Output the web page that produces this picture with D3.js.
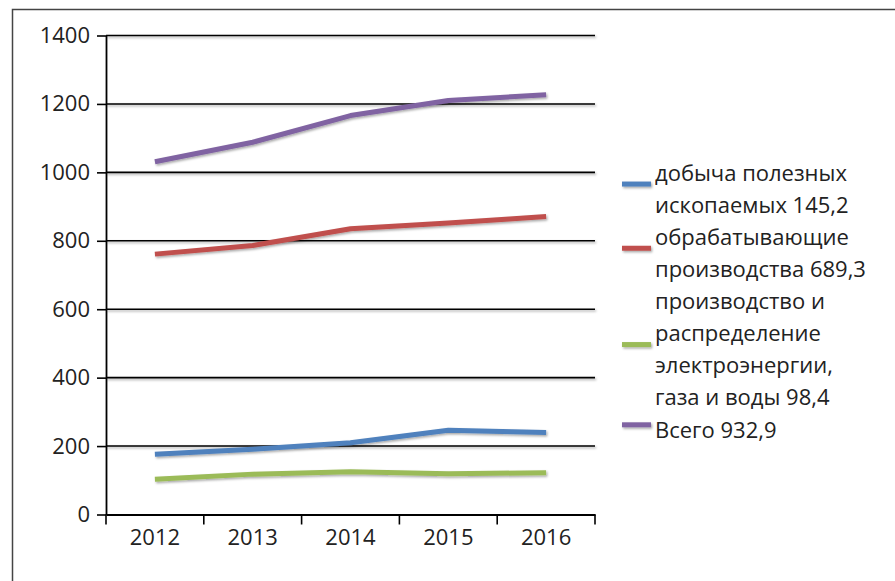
<!DOCTYPE html>
<html>
<head>
<meta charset="utf-8">
<script src="https://cdn.jsdelivr.net/npm/d3@7"></script>
<style>
  body { margin: 0; background: #fff; }
  svg text { font-family: "Open Sans", sans-serif; fill: #222; }
</style>
</head>
<body>
<div id="wrapper"></div>
<script>
// data
var years = ["2012", "2013", "2014", "2015", "2016"];
var mining = [176, 191, 210, 246, 240];
var manufacturing = [761, 786, 835, 852, 871];
var utilities = [103, 118, 125, 119, 122];
var total = [1031, 1088, 1166, 1210, 1227];
var yTicks = [0, 200, 400, 600, 800, 1000, 1200, 1400];

var seriesNames = [
    ["добыча полезных", "ископаемых 145,2"],
    ["обрабатывающие", "производства 689,3"],
    ["производство и", "распределение", "электроэнергии,", "газа и воды 98,4"],
    ["Всего 932,9"]
];
var seriesValues = [mining, manufacturing, utilities, total];
var colors = ["#4F81BD", "#C0504D", "#9BBB59", "#8064A2"];

var width = 895, height = 581;
var plot = { left: 106, right: 595, top: 35.5, bottom: 514.5 };

var svg = d3.select("#wrapper").append("svg")
    .attr("width", width)
    .attr("height", height);

// shadow for lines (user space so flat horizontal lines keep it)
var defs = svg.append("defs");
var f = defs.append("filter").attr("id", "shadow")
    .attr("filterUnits", "userSpaceOnUse")
    .attr("x", 0).attr("y", 0).attr("width", width).attr("height", height);
f.append("feDropShadow")
    .attr("dx", 1.2).attr("dy", 1.5).attr("stdDeviation", 0.9)
    .attr("flood-color", "#000").attr("flood-opacity", 0.35);

// chart frame (only top and left visible in the crop)
svg.append("path")
    .attr("d", "M12.5,581 V9.5 H895")
    .attr("fill", "none")
    .attr("stroke", "#444")
    .attr("stroke-width", 1.5);

var x = d3.scaleBand().domain(years).range([plot.left, plot.right]);
var y = d3.scaleLinear().domain([0, 1400]).range([plot.bottom, plot.top]);

// gridlines
svg.append("g")
    .attr("filter", "url(#shadow)")
    .selectAll("line")
    .data(yTicks.filter(function(d) { return d > 0; }))
    .enter()
    .append("line")
    .attr("x1", plot.left).attr("x2", plot.right)
    .attr("y1", function(d) { return y(d); })
    .attr("y2", function(d) { return y(d); })
    .attr("stroke", "#000")
    .attr("stroke-width", 1.6);

// y axis
var yAxis = svg.append("g")
    .attr("transform", "translate(" + plot.left + ",0)")
    .call(d3.axisLeft(y).tickValues(yTicks).tickFormat(d3.format("d"))
        .tickSize(9).tickPadding(7).tickSizeOuter(0));
yAxis.select(".domain").attr("stroke", "#000").attr("stroke-width", 1.8);
yAxis.selectAll(".tick line").attr("stroke", "#000").attr("stroke-width", 1.6);
yAxis.selectAll("text").style("font-size", "22px").attr("fill", "#222");

// x axis: labels centred in bands, ticks at band edges
var xAxis = svg.append("g")
    .attr("transform", "translate(0," + plot.bottom + ")")
    .call(d3.axisBottom(x).tickSize(0).tickPadding(15).tickSizeOuter(0));
xAxis.select(".domain").attr("stroke", "#000").attr("stroke-width", 1.8);
xAxis.selectAll("text").style("font-size", "22px").attr("fill", "#222");

var edges = years.map(function(d) { return x(d); }).concat([plot.right]);
svg.append("g")
    .selectAll("line")
    .data(edges)
    .enter()
    .append("line")
    .attr("x1", function(d) { return d; })
    .attr("x2", function(d) { return d; })
    .attr("y1", plot.bottom)
    .attr("y2", plot.bottom + 10)
    .attr("stroke", "#000")
    .attr("stroke-width", 1.6);

// series lines
var line = d3.line()
    .x(function(d, i) { return x(years[i]) + x.bandwidth() / 2; })
    .y(function(d) { return y(d); });

svg.append("g")
    .selectAll("path")
    .data(seriesValues)
    .enter()
    .append("path")
    .attr("d", line)
    .attr("fill", "none")
    .attr("stroke", function(d, i) { return colors[i]; })
    .attr("stroke-width", 5)
    .attr("stroke-linejoin", "round")
    .attr("filter", "url(#shadow)");

// legend
var legend = { x: 622, symW: 29, textX: 655, top: 173, lineH: 32.1 };
var row = 0;
seriesNames.forEach(function(lines, i) {
    var g = svg.append("g");
    var first = row;
    lines.forEach(function(t, j) {
        g.append("text")
            .attr("x", legend.textX)
            .attr("y", legend.top + (row + j) * legend.lineH)
            .attr("dy", "0.35em")
            .style("font-size", "22px")
            .text(t);
    });
    row += lines.length;
    var cy = legend.top + (first + (lines.length - 1) / 2) * legend.lineH - 5;
    g.append("line")
        .attr("x1", legend.x).attr("x2", legend.x + legend.symW)
        .attr("y1", cy).attr("y2", cy)
        .attr("stroke", colors[i])
        .attr("stroke-width", 5)
        .attr("filter", "url(#shadow)");
});
</script>
</body>
</html>
